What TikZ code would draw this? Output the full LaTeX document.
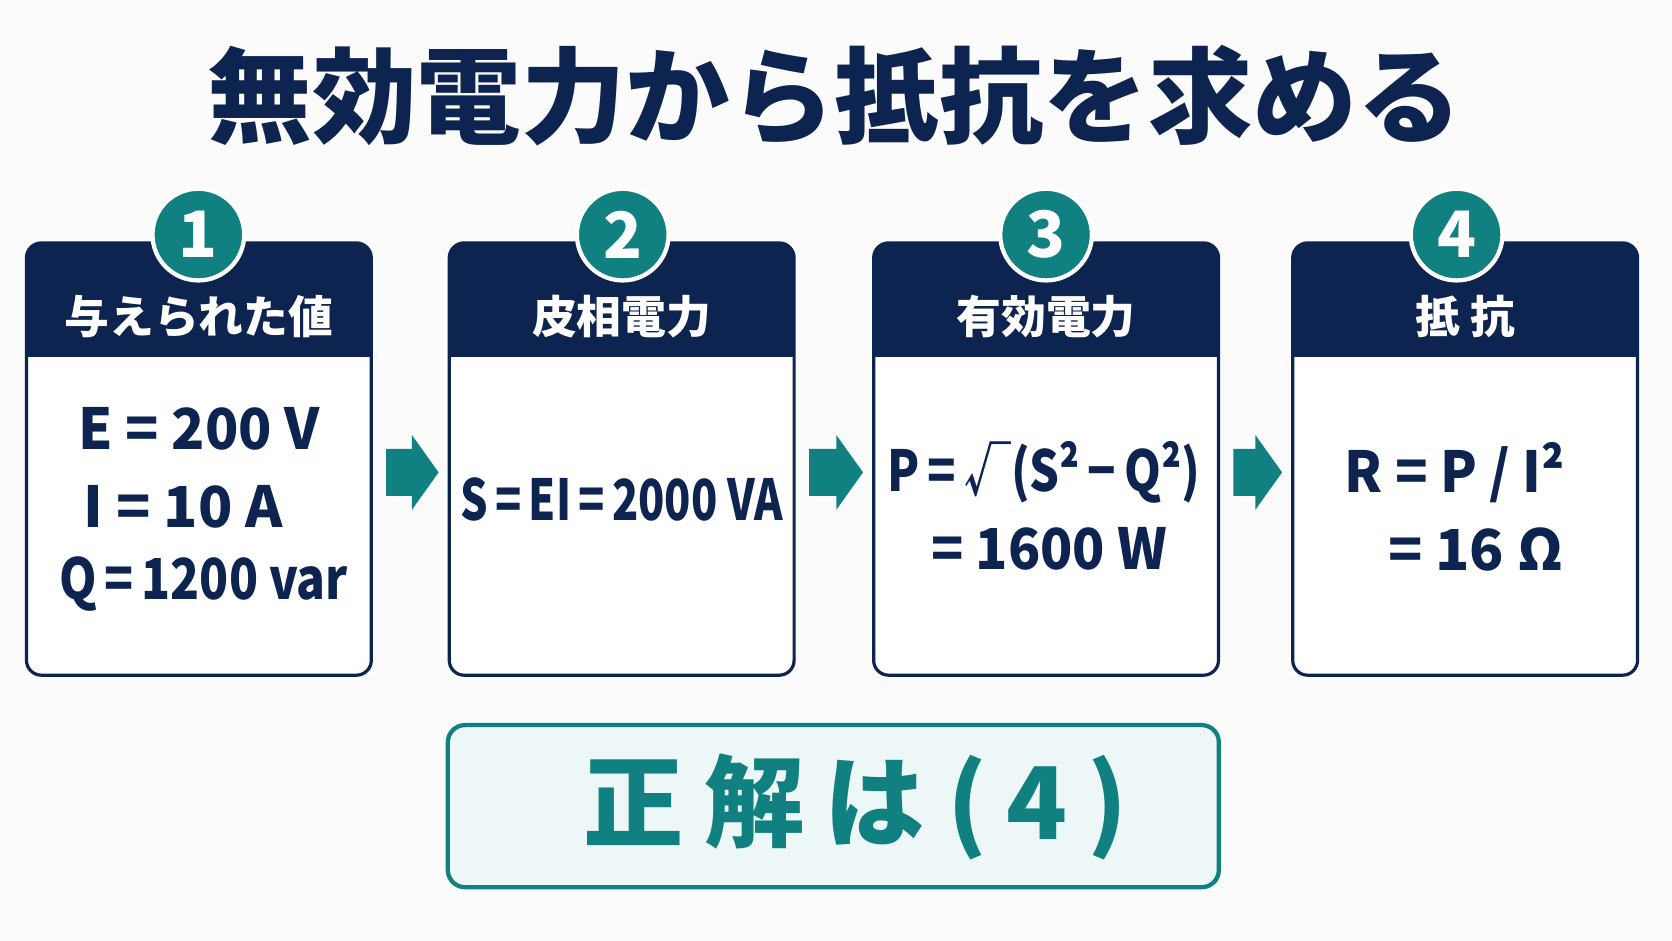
\documentclass[tikz,border=0pt]{standalone}
\usepackage{fontspec}
\setmainfont{Noto Sans CJK JP}
\usetikzlibrary{calc}
\definecolor{navy}{RGB}{14,36,80}
\definecolor{tealc}{RGB}{16,128,128}
\definecolor{ansfill}{RGB}{238,247,247}
\definecolor{bg}{RGB}{251,251,251}
\newcommand\mysqz[2]{\scalebox{#1}[1]{#2}}
\tikzset{
  boxbody/.style={minimum width=323pt, minimum height=405pt, inner sep=0pt, fill=white},
  boxline/.style={draw=navy, line width=3pt, rounded corners=14pt},
  headtext/.style={text=white, font=\bfseries\fontsize{42}{42}\selectfont},
  numcircle/.style={circle, fill=tealc, draw=white, line width=4pt, minimum size=86pt, inner sep=0pt, text=white, font=\bfseries\fontsize{60}{60}\selectfont},
  bodytext/.style={text=navy, font=\bfseries\fontsize{53}{53}\selectfont, inner sep=0pt},
  flowarrow/.style={fill=tealc}
}
\begin{document}
\begin{tikzpicture}[x=1pt,y=-1pt]
\useasboundingbox (0,0) rectangle (1568,882);
\fill[bg] (0,0) rectangle (1568,882);
% title
\node[text=navy, font=\bfseries\fontsize{98}{98}\selectfont] (title) at (783,90) {無効電力から抵抗を求める};
% boxes
\foreach \i/\x/\cx/\hd in {1/186.5/186/与えられた値, 2/583/584/皮相電力, 3/981/981/有効電力, 4/1374/1366/抵\ 抗}{
  \node[boxbody] (b\i) at (\x,430.5) {};
  \begin{scope}
    \clip[rounded corners=14pt] (b\i.north west) rectangle (b\i.south east);
    \fill[navy] (b\i.north west) rectangle ($(b\i.north east)+(0,107)$);
  \end{scope}
  \draw[boxline] (b\i.north west) rectangle (b\i.south east);
  \node[headtext] (h\i) at (\x,297) {\hd};
  \node[numcircle] (n\i) at (\cx,220) {\i};
}
% body texts
\node[bodytext] (e1) at (187,402) {\mysqz{0.97}{E = 200 V}};
\node[bodytext] (e2) at (172,475) {\mysqz{1}{I = 10 A}};
\node[bodytext] (e3) at (191,548) {\mysqz{0.845}{Q{\,}={\,}1200 var}};
\node[bodytext] (s1) at (583,468) {\mysqz{0.765}{S{\,}={\,}EI{\,}={\,}2000 VA}};
\node[bodytext] (p1) at (979,443) {\mysqz{0.83}{P{\,}={\,}√(S²{\,}−{\,}Q²)}};
\node[bodytext] (p2) at (984,515) {\mysqz{0.94}{= 1600 W}};
\node[bodytext] (r1) at (1364,443) {\mysqz{0.95}{R = P / I²}};
\node[bodytext] (r2) at (1384,515) {= 16 Ω};
% arrows
\foreach \a/\b in {1/2,2/3,3/4}{
  \coordinate (as\a) at ($(b\a.east)+(14,12.5)$);
  \coordinate (ae\a) at ($(b\b.west)+(-10,12.5)$);
  \fill[flowarrow] ($(as\a)+(0,-22)$) -- ($(ae\a)+(-25,-22)$) -- ($(ae\a)+(-25,-35)$) -- (ae\a)
    -- ($(ae\a)+(-25,35)$) -- ($(ae\a)+(-25,22)$) -- ($(as\a)+(0,22)$) -- cycle;
}
% answer
\node[draw=tealc, line width=4pt, fill=ansfill, rounded corners=16pt, minimum width=723pt, minimum height=152pt] (ans) at (781.5,756) {};
\node[text=tealc, font=\bfseries\fontsize{94}{94}\selectfont] (anst) at (802,757) {正\hspace{20pt}解\hspace{18pt}は\hspace{22pt}(\hspace{18pt}4\hspace{18pt})};
\end{tikzpicture}
\end{document}
